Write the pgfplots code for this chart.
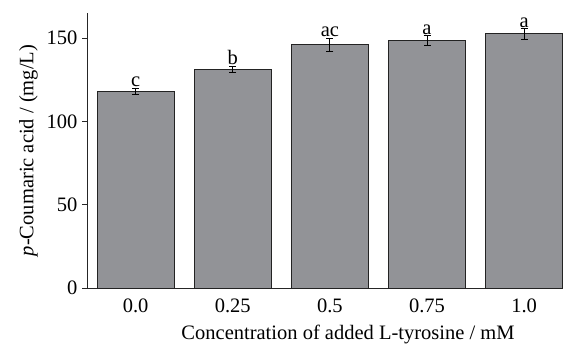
\documentclass[border=0pt]{standalone}
\usepackage{pgfplots}
\pgfplotsset{compat=1.18}
\usepackage{fontspec}
\setmainfont{Liberation Serif}
\usetikzlibrary{calc}
\definecolor{barfill}{RGB}{146,147,151}
\definecolor{baredge}{RGB}{35,35,35}
\newcommand\chartfont{\fontsize{20.5pt}{24pt}\selectfont}
\begin{document}
\begin{tikzpicture}
\begin{axis}[
  name=ax,
  scale only axis,
  width=476pt, height=275pt,
  xmin=-0.5, xmax=4.4,
  ymin=0, ymax=165,
  axis x line*=bottom, axis y line*=left,
  axis line style={line width=0.9pt, black!85},
  xtick={0,1,2,3,4},
  xticklabels={0.0,0.25,0.5,0.75,1.0},
  ytick={0,50,100,150},
  xtick style={draw=none},
  ytick style={line width=0.9pt, black!85},
  tick align=outside,
  major tick length=5pt,
  /pgf/number format/assume math mode=true,
  tick label style={font=\chartfont},
  label style={font=\chartfont},
  yticklabel style={xshift=-1pt},
  xticklabel style={yshift=-2pt},
  xlabel={Concentration of added L-tyrosine / mM},
  ylabel={\textit{p}-Coumaric acid / (mg/L)},
  xlabel style={yshift=-6pt, xshift=23pt},
  ylabel style={yshift=2pt},
  clip=false,
]
\addplot[ybar, bar width=0.79, bar shift=0pt, fill=barfill, draw=baredge, line width=0.8pt,
  error bars/.cd, y dir=both, y explicit,
  error bar style={line width=0.9pt, black},
  error mark options={rotate=90, mark size=3.5pt, line width=0.9pt, black}]
  coordinates {
  (0,118) +- (0,2)
  (1,131) +- (0,1.8)
  (2,146) +- (0,3.8)
  (3,148.5) +- (0,2.8)
  (4,152.5) +- (0,3.2)
};
\addplot[only marks, mark=none, nodes near coords, point meta=explicit symbolic,
  every node near coord/.append style={anchor=south, inner sep=0.5pt, font=\chartfont}]
  coordinates {
  (0,120.5) [c]
  (1,133.3) [b]
  (2,150.2) [ac]
  (3,151.6) [a]
  (4,156) [a]
};
\end{axis}
\pgfresetboundingbox
\path[use as bounding box] ($(ax.south west)+(-87pt,-62pt)$) rectangle ($(ax.north east)+(0pt,13pt)$);
\end{tikzpicture}
\end{document}
